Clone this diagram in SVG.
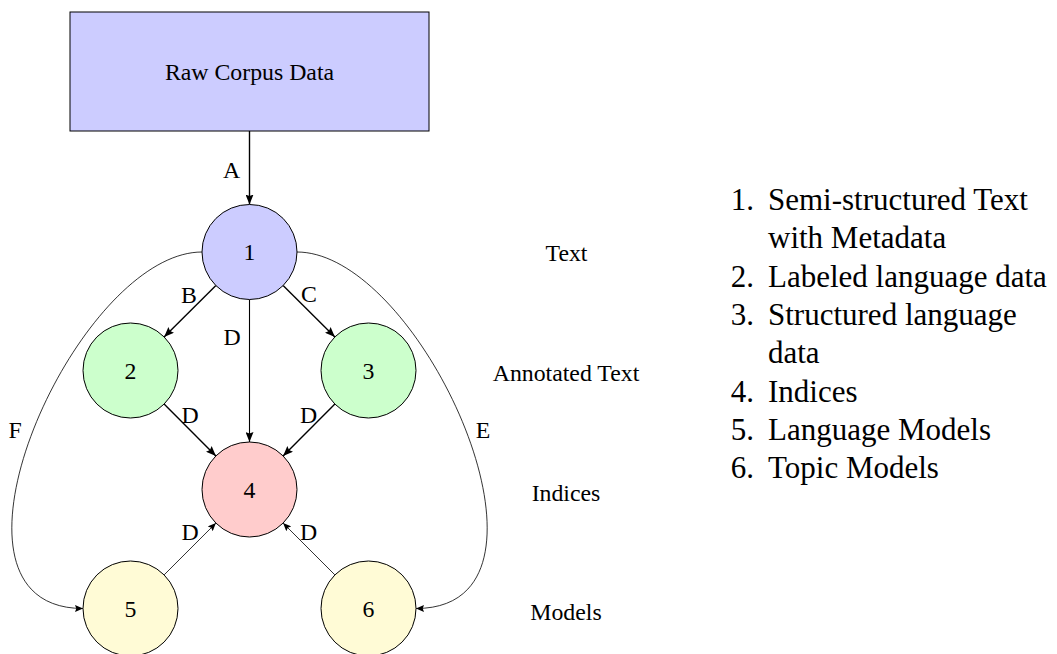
<svg xmlns="http://www.w3.org/2000/svg" width="1057" height="654" viewBox="0 0 1057 654">
<style>
text{font-family:"Liberation Serif","Times New Roman",serif;fill:#000}
.lbl{font-size:23.8px;text-anchor:middle}
.leg{font-size:31px}
.num{font-size:31px;text-anchor:end}
.node{stroke:#000;stroke-width:1}
.thick{fill:none;stroke:#000;stroke-width:1.4}
.med{fill:none;stroke:#000;stroke-width:1.1}
.thin{fill:none;stroke:#000;stroke-width:0.8}
</style>
<defs>
<marker id="ah" markerUnits="userSpaceOnUse" markerWidth="10" markerHeight="8" viewBox="0 0 10 8" refX="10" refY="4" orient="auto">
<path d="M10,4 L0,0 L1.6,4 L0,8 z" fill="#000"/>
</marker>
<marker id="ahs" markerUnits="userSpaceOnUse" markerWidth="8" markerHeight="7" viewBox="0 0 8 7" refX="8" refY="3.5" orient="auto">
<path d="M8,3.5 L0,0 L1.3,3.5 L0,7 z" fill="#000"/>
</marker>
</defs>
<g id="raw">
<rect class="node" x="70" y="12" width="359" height="119" fill="#ccccff"/>
<text class="lbl" x="249.5" y="80">Raw Corpus Data</text>
</g>
<g id="connectors">
<path class="thick" d="M249.5,131 L249.5,204.5" marker-end="url(#ah)"/>
<path class="thick" d="M215.9,285.6 L164.1,336.9" marker-end="url(#ah)"/>
<path class="thick" d="M283.1,285.6 L334.9,336.9" marker-end="url(#ah)"/>
<path class="med" d="M249.5,299.5 L249.5,442" marker-end="url(#ah)"/>
<path class="thick" d="M164.1,404.1 L215.9,455.9" marker-end="url(#ah)"/>
<path class="thick" d="M334.9,404.1 L283.1,455.9" marker-end="url(#ah)"/>
<path class="thin" d="M164.1,574.9 L215.9,523.1" marker-end="url(#ahs)"/>
<path class="thin" d="M334.9,574.9 L283.1,523.1" marker-end="url(#ahs)"/>
<path class="thin" d="M202,252 C76,252 -82.6,608.5 83,608.5" marker-end="url(#ahs)"/>
<path class="thin" d="M297,252 C423,252 581.6,608.5 416,608.5" marker-end="url(#ahs)"/>
<text class="lbl" x="231.5" y="177.5">A</text>
<text class="lbl" x="189" y="303">B</text>
<text class="lbl" x="309" y="302">C</text>
<text class="lbl" x="232" y="345">D</text>
<text class="lbl" x="190" y="423">D</text>
<text class="lbl" x="308.5" y="423">D</text>
<text class="lbl" x="190" y="540">D</text>
<text class="lbl" x="308.5" y="540">D</text>
<text class="lbl" x="15" y="438">F</text>
<text class="lbl" x="483" y="438">E</text>
</g>
<g id="n1"><circle class="node" cx="249.5" cy="252" r="47.5" fill="#ccccff"/><text class="lbl" x="249.5" y="260">1</text></g>
<g id="n2"><circle class="node" cx="130.5" cy="370.5" r="47.5" fill="#ccffcc"/><text class="lbl" x="130.5" y="378.5">2</text></g>
<g id="n3"><circle class="node" cx="368.5" cy="370.5" r="47.5" fill="#ccffcc"/><text class="lbl" x="368.5" y="378.5">3</text></g>
<g id="n4"><circle class="node" cx="249.5" cy="489.5" r="47.5" fill="#ffcccc"/><text class="lbl" x="249.5" y="497.5">4</text></g>
<g id="n5"><circle class="node" cx="130.5" cy="608.5" r="47.5" fill="#fffbd6"/><text class="lbl" x="130.5" y="616.5">5</text></g>
<g id="n6"><circle class="node" cx="368.5" cy="608.5" r="47.5" fill="#fffbd6"/><text class="lbl" x="368.5" y="616.5">6</text></g>
<g id="levels">
<text class="lbl" x="566.5" y="261">Text</text>
<text class="lbl" x="566" y="380.5">Annotated Text</text>
<text class="lbl" x="566" y="501">Indices</text>
<text class="lbl" x="566" y="620">Models</text>
</g>
<g id="legend">
<text class="num" x="754" y="210">1.</text>
<text class="leg" x="768" y="210">Semi-structured Text</text>
<text class="leg" x="768" y="248.3">with Metadata</text>
<text class="num" x="754" y="286.6">2.</text>
<text class="leg" x="768" y="286.6">Labeled language data</text>
<text class="num" x="754" y="324.9">3.</text>
<text class="leg" x="768" y="324.9">Structured language</text>
<text class="leg" x="768" y="363.2">data</text>
<text class="num" x="754" y="401.5">4.</text>
<text class="leg" x="768" y="401.5">Indices</text>
<text class="num" x="754" y="439.8">5.</text>
<text class="leg" x="768" y="439.8">Language Models</text>
<text class="num" x="754" y="478.1">6.</text>
<text class="leg" x="768" y="478.1">Topic Models</text>
</g>
</svg>
